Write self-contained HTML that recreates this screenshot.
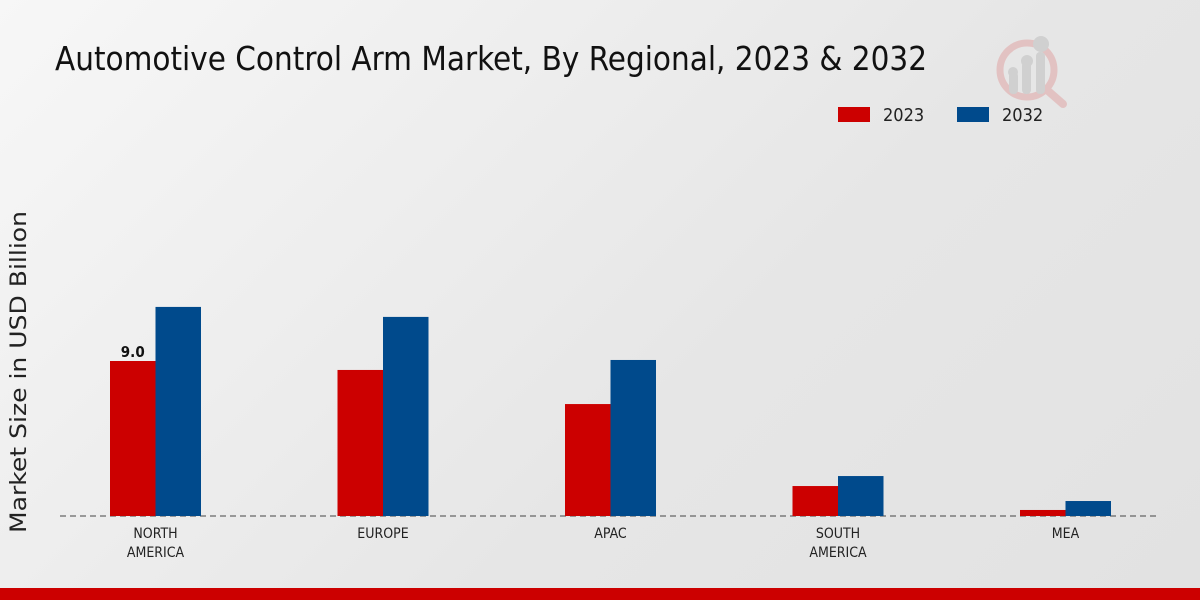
<!DOCTYPE html>
<html><head><meta charset="utf-8"><style>
html,body{margin:0;padding:0;}
body{width:1200px;height:600px;overflow:hidden;background:linear-gradient(135deg,#f7f7f7 0%,#e6e6e6 60%,#e2e2e2 100%);font-family:"DejaVu Sans Condensed","DejaVu Sans","Liberation Sans",sans-serif;}
svg{position:absolute;left:0;top:0;}
</style></head><body>
<svg id="chart" width="1200" height="600">
<text x="55" y="70" font-size="33" textLength="872" lengthAdjust="spacingAndGlyphs" fill="#111" font-family="DejaVu Sans Condensed, DejaVu Sans, sans-serif">Automotive Control Arm Market, By Regional, 2023 &amp; 2032</text>
<g opacity="0.5">
<circle cx="1027" cy="70" r="27" fill="none" stroke="#e0a0a0" stroke-width="7"/>
<line x1="1047" y1="90" x2="1063" y2="104" stroke="#e0a0a0" stroke-width="8" stroke-linecap="round"/>
<rect x="1009" y="72" width="9" height="22" rx="4" fill="#bbb"/>
<rect x="1022" y="62" width="9" height="32" rx="4" fill="#bbb"/>
<rect x="1036" y="52" width="9" height="42" rx="4" fill="#bbb"/>
<circle cx="1013" cy="72" r="5" fill="#bbb"/><circle cx="1027" cy="61" r="6" fill="#bbb"/><circle cx="1041" cy="44" r="8" fill="#bbb"/>
</g>
<g>
<rect x="838" y="107" width="32" height="15" fill="#cc0000"/>
<text x="883" y="121" font-size="18" fill="#222">2023</text>
<rect x="957" y="107" width="32" height="15" fill="#004a8c"/>
<text x="1002" y="121" font-size="18" fill="#222">2032</text>
</g>
<text transform="translate(26,372) rotate(-90)" text-anchor="middle" font-size="22" fill="#222" font-family="DejaVu Sans, sans-serif" textLength="322" lengthAdjust="spacingAndGlyphs">Market Size in USD Billion</text>
<line x1="60" y1="516" x2="1160" y2="516" stroke="#444" stroke-dasharray="6,4" stroke-width="1"/>
<g id="bars"></g>
<rect x="0" y="588" width="1200" height="12" fill="#cc0000"/>
</svg>
<script>
const categories=[["NORTH","AMERICA"],["EUROPE"],["APAC"],["SOUTH","AMERICA"],["MEA"]];
const values2023=[9.0,8.48,6.5,1.74,0.35];
const values2032=[12.14,11.56,9.06,2.32,0.87];
const labels2023=["9.0",null,null,null,null];
const NS="http://www.w3.org/2000/svg";
const g=document.getElementById('bars');
const base=516, scale=155/9.0;
function yPos(v){return base-v*scale;}
function xCenter(i){return 155.5+i*227.5;}
const bw=45.5;
function mk(tag,attrs){const e=document.createElementNS(NS,tag);for(const k in attrs)e.setAttribute(k,attrs[k]);g.appendChild(e);return e;}
categories.forEach((c,i)=>{
  const cx=xCenter(i);
  const r=mk('rect',{x:cx-bw,y:yPos(values2023[i]),width:bw,height:base-yPos(values2023[i]),fill:'#cc0000'});
  
  
  const b=mk('rect',{x:cx,y:yPos(values2032[i]),width:bw,height:base-yPos(values2032[i]),fill:'#004a8c'});
  
  
  if(labels2023[i]){
    const t=mk('text',{x:cx-bw/2,y:yPos(values2023[i])-4,'text-anchor':'middle','font-size':'15','font-weight':'bold',fill:'#111'});
    t.textContent=labels2023[i];
    
    
  }
  c.forEach((line,j)=>{
    const t=mk('text',{x:cx,y:538+j*19,'text-anchor':'middle','font-size':'14',fill:'#222'});
    t.textContent=line;
    
    
  });
});
</script>
</body></html>
